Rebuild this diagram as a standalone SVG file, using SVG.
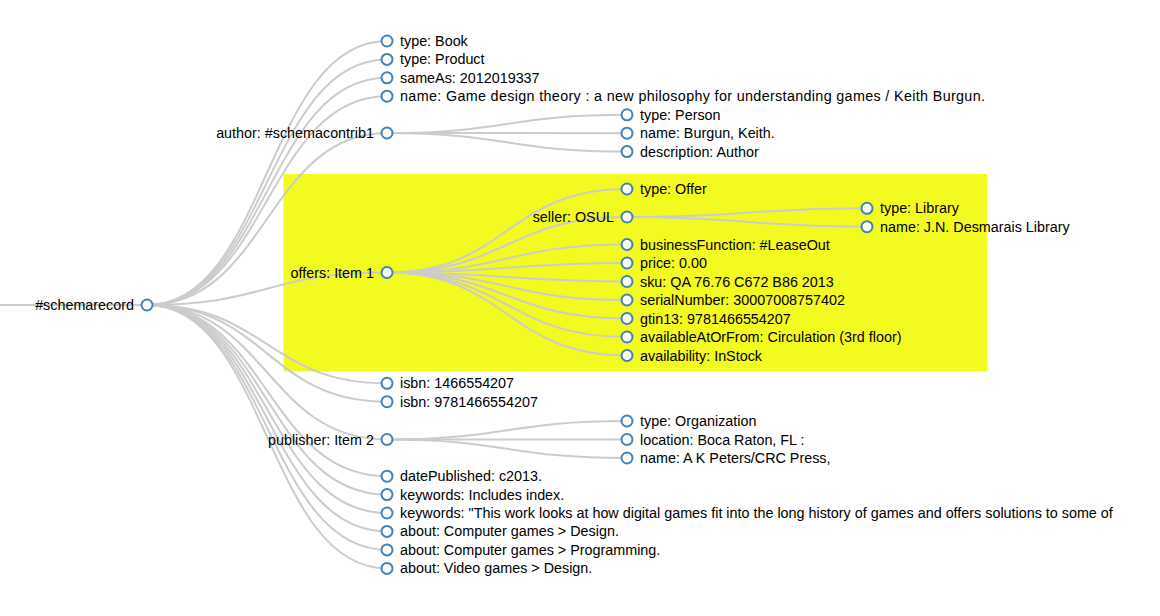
<svg xmlns="http://www.w3.org/2000/svg" width="1160" height="616" viewBox="0 0 1160 616">
<style>
.link{fill:none;stroke:#ccc;stroke-width:2}
.node circle{fill:#fff;stroke:#4682b4;stroke-width:2}
.node text{font-family:"Liberation Sans",Arial,Helvetica,sans-serif;font-size:14.35px;fill:#000}
.leaf text{text-anchor:start}
.parent text{text-anchor:end}
</style>
<rect x="283.5" y="174" width="703.5" height="197.5" fill="#f3fa1f"/>
<g id="links">
<path class="link" d="M0,305 L147,305"/>
<path class="link" d="M147,305 C267,305 267,41 387,41"/>
<path class="link" d="M147,305 C267,305 267,59.4 387,59.4"/>
<path class="link" d="M147,305 C267,305 267,77.8 387,77.8"/>
<path class="link" d="M147,305 C267,305 267,96.2 387,96.2"/>
<path class="link" d="M147,305 C267,305 267,133 387,133"/>
<path class="link" d="M147,305 C267,305 267,272.5 387,272.5"/>
<path class="link" d="M147,305 C267,305 267,383.3 387,383.3"/>
<path class="link" d="M147,305 C267,305 267,401.7 387,401.7"/>
<path class="link" d="M147,305 C267,305 267,439.5 387,439.5"/>
<path class="link" d="M147,305 C267,305 267,476.2 387,476.2"/>
<path class="link" d="M147,305 C267,305 267,494.6 387,494.6"/>
<path class="link" d="M147,305 C267,305 267,513 387,513"/>
<path class="link" d="M147,305 C267,305 267,531.4 387,531.4"/>
<path class="link" d="M147,305 C267,305 267,549.9 387,549.9"/>
<path class="link" d="M147,305 C267,305 267,568.4 387,568.4"/>
<path class="link" d="M387,133 C507,133 507,114.8 627,114.8"/>
<path class="link" d="M387,133 C507,133 507,133.2 627,133.2"/>
<path class="link" d="M387,133 C507,133 507,151.6 627,151.6"/>
<path class="link" d="M387,272.5 C507,272.5 507,189 627,189"/>
<path class="link" d="M387,272.5 C507,272.5 507,217 627,217"/>
<path class="link" d="M387,272.5 C507,272.5 507,244.5 627,244.5"/>
<path class="link" d="M387,272.5 C507,272.5 507,263 627,263"/>
<path class="link" d="M387,272.5 C507,272.5 507,281.5 627,281.5"/>
<path class="link" d="M387,272.5 C507,272.5 507,300 627,300"/>
<path class="link" d="M387,272.5 C507,272.5 507,318.5 627,318.5"/>
<path class="link" d="M387,272.5 C507,272.5 507,337 627,337"/>
<path class="link" d="M387,272.5 C507,272.5 507,355.5 627,355.5"/>
<path class="link" d="M627,217 C747,217 747,208.3 867,208.3"/>
<path class="link" d="M627,217 C747,217 747,226.7 867,226.7"/>
<path class="link" d="M387,439.5 C507,439.5 507,421 627,421"/>
<path class="link" d="M387,439.5 C507,439.5 507,439.5 627,439.5"/>
<path class="link" d="M387,439.5 C507,439.5 507,458 627,458"/>
</g>
<g id="n-root" class="node parent" transform="translate(147,305)"><circle r="5.5"/><text x="-13" dy=".35em">#schemarecord</text></g>
<g id="n-type-book" class="node leaf" transform="translate(387,41)"><circle r="5.5"/><text x="13" dy=".35em">type: Book</text></g>
<g id="n-type-product" class="node leaf" transform="translate(387,59.4)"><circle r="5.5"/><text x="13" dy=".35em">type: Product</text></g>
<g id="n-sameas" class="node leaf" transform="translate(387,77.8)"><circle r="5.5"/><text x="13" dy=".35em">sameAs: 2012019337</text></g>
<g id="n-name" class="node leaf" transform="translate(387,96.2)"><circle r="5.5"/><text x="13" dy=".35em" textLength="585" lengthAdjust="spacing">name: Game design theory : a new philosophy for understanding games / Keith Burgun.</text></g>
<g id="n-author" class="node parent" transform="translate(387,133)"><circle r="5.5"/><text x="-13" dy=".35em">author: #schemacontrib1</text></g>
<g id="n-author-type" class="node leaf" transform="translate(627,114.8)"><circle r="5.5"/><text x="13" dy=".35em">type: Person</text></g>
<g id="n-author-name" class="node leaf" transform="translate(627,133.2)"><circle r="5.5"/><text x="13" dy=".35em">name: Burgun, Keith.</text></g>
<g id="n-author-desc" class="node leaf" transform="translate(627,151.6)"><circle r="5.5"/><text x="13" dy=".35em">description: Author</text></g>
<g id="n-offers" class="node parent" transform="translate(387,272.5)"><circle r="5.5"/><text x="-13" dy=".35em">offers: Item 1</text></g>
<g id="n-offer-type" class="node leaf" transform="translate(627,189)"><circle r="5.5"/><text x="13" dy=".35em">type: Offer</text></g>
<g id="n-seller" class="node parent" transform="translate(627,217)"><circle r="5.5"/><text x="-13" dy=".35em">seller: OSUL</text></g>
<g id="n-seller-type" class="node leaf" transform="translate(867,208.3)"><circle r="5.5"/><text x="13" dy=".35em">type: Library</text></g>
<g id="n-seller-name" class="node leaf" transform="translate(867,226.7)"><circle r="5.5"/><text x="13" dy=".35em">name: J.N. Desmarais Library</text></g>
<g id="n-bf" class="node leaf" transform="translate(627,244.5)"><circle r="5.5"/><text x="13" dy=".35em">businessFunction: #LeaseOut</text></g>
<g id="n-price" class="node leaf" transform="translate(627,263)"><circle r="5.5"/><text x="13" dy=".35em">price: 0.00</text></g>
<g id="n-sku" class="node leaf" transform="translate(627,281.5)"><circle r="5.5"/><text x="13" dy=".35em">sku: QA 76.76 C672 B86 2013</text></g>
<g id="n-serial" class="node leaf" transform="translate(627,300)"><circle r="5.5"/><text x="13" dy=".35em">serialNumber: 30007008757402</text></g>
<g id="n-gtin" class="node leaf" transform="translate(627,318.5)"><circle r="5.5"/><text x="13" dy=".35em">gtin13: 9781466554207</text></g>
<g id="n-avail-at" class="node leaf" transform="translate(627,337)"><circle r="5.5"/><text x="13" dy=".35em">availableAtOrFrom: Circulation (3rd floor)</text></g>
<g id="n-avail" class="node leaf" transform="translate(627,355.5)"><circle r="5.5"/><text x="13" dy=".35em">availability: InStock</text></g>
<g id="n-isbn1" class="node leaf" transform="translate(387,383.3)"><circle r="5.5"/><text x="13" dy=".35em">isbn: 1466554207</text></g>
<g id="n-isbn2" class="node leaf" transform="translate(387,401.7)"><circle r="5.5"/><text x="13" dy=".35em">isbn: 9781466554207</text></g>
<g id="n-publisher" class="node parent" transform="translate(387,439.5)"><circle r="5.5"/><text x="-13" dy=".35em">publisher: Item 2</text></g>
<g id="n-pub-type" class="node leaf" transform="translate(627,421)"><circle r="5.5"/><text x="13" dy=".35em">type: Organization</text></g>
<g id="n-pub-loc" class="node leaf" transform="translate(627,439.5)"><circle r="5.5"/><text x="13" dy=".35em">location: Boca Raton, FL :</text></g>
<g id="n-pub-name" class="node leaf" transform="translate(627,458)"><circle r="5.5"/><text x="13" dy=".35em">name: A K Peters/CRC Press,</text></g>
<g id="n-date" class="node leaf" transform="translate(387,476.2)"><circle r="5.5"/><text x="13" dy=".35em">datePublished: c2013.</text></g>
<g id="n-kw1" class="node leaf" transform="translate(387,494.6)"><circle r="5.5"/><text x="13" dy=".35em">keywords: Includes index.</text></g>
<g id="n-kw2" class="node leaf" transform="translate(387,513)"><circle r="5.5"/><text x="13" dy=".35em">keywords: "This work looks at how digital games fit into the long history of games and offers solutions to some of</text></g>
<g id="n-about1" class="node leaf" transform="translate(387,531.4)"><circle r="5.5"/><text x="13" dy=".35em">about: Computer games &gt; Design.</text></g>
<g id="n-about2" class="node leaf" transform="translate(387,549.9)"><circle r="5.5"/><text x="13" dy=".35em">about: Computer games &gt; Programming.</text></g>
<g id="n-about3" class="node leaf" transform="translate(387,568.4)"><circle r="5.5"/><text x="13" dy=".35em">about: Video games &gt; Design.</text></g>
</svg>
